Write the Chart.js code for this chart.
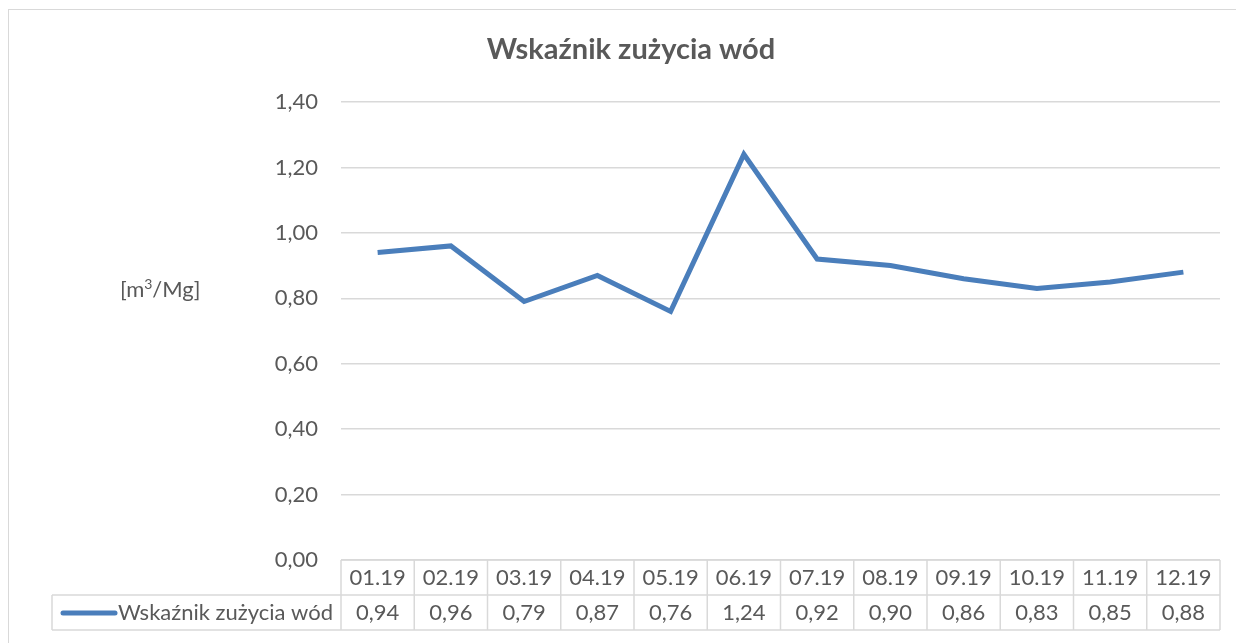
<!DOCTYPE html>
<html>
<head>
<meta charset="utf-8">
<script src="https://cdn.jsdelivr.net/npm/chart.js@4/dist/chart.umd.min.js"></script>
<style>
  html, body { margin: 0; padding: 0; background: #fff; }
  #wrap { width: 1236px; height: 643px; position: relative; }
</style>
</head>
<body>
<div id="wrap"><canvas id="myChart" width="1236" height="643"></canvas></div>
<script>
var months = ['01.19','02.19','03.19','04.19','05.19','06.19','07.19','08.19','09.19','10.19','11.19','12.19'];
var values = [0.94, 0.96, 0.79, 0.87, 0.76, 1.24, 0.92, 0.90, 0.86, 0.83, 0.85, 0.88];
var seriesName = 'Wskaźnik zużycia wód';
var chartTitle = 'Wskaźnik zużycia wód';

var FONT = 'Lato, "Open Sans", sans-serif';
var GRAY = '#595959';
var GRID = '#d9d9d9';
var BLUE = '#4a7ebb';

function fmt(v) {
  return v.toFixed(2).replace('.', ',');
}

// title, unit label, data table and frame
var extras = {
  id: 'extras',
  afterDraw: function(chart) {
    var c = chart.ctx;
    var x = chart.scales.x;
    var area = chart.chartArea;
    var half = (x.getPixelForValue(1) - x.getPixelForValue(0)) / 2;
    var top = area.bottom, mid = top + 35, bot = mid + 35;
    var legendLeft = 52;

    c.save();
    // outer frame
    c.strokeStyle = GRID;
    c.lineWidth = 1;
    c.strokeRect(8.5, 9.5, 1300, 700);

    // title
    c.fillStyle = GRAY;
    c.font = 'bold 29px ' + FONT;
    c.textAlign = 'center';
    c.textBaseline = 'middle';
    c.fillText(chartTitle, 631, 50);

    // unit label [m3/Mg]
    c.font = '22px ' + FONT;
    c.textAlign = 'left';
    c.textBaseline = 'alphabetic';
    var ux = 120, uy = 297;
    c.fillText('[m', ux, uy);
    ux += c.measureText('[m').width;
    c.font = '14px ' + FONT;
    c.fillText('3', ux, uy - 8);
    ux += c.measureText('3').width;
    c.font = '22px ' + FONT;
    c.fillText('/Mg]', ux, uy);

    // table lines
    c.strokeStyle = GRID;
    c.lineWidth = 1.5;
    c.beginPath();
    c.moveTo(area.left, top); c.lineTo(area.right, top);
    c.moveTo(legendLeft, mid); c.lineTo(area.right, mid);
    c.moveTo(legendLeft, bot); c.lineTo(area.right, bot);
    c.moveTo(legendLeft, mid); c.lineTo(legendLeft, bot);
    for (var i = 0; i < months.length; i++) {
      var px = x.getPixelForValue(i) - half;
      c.moveTo(px, top); c.lineTo(px, bot);
    }
    c.moveTo(area.right, top); c.lineTo(area.right, bot);
    c.stroke();

    // table text
    c.fillStyle = GRAY;
    c.font = '22px ' + FONT;
    c.textAlign = 'center';
    c.textBaseline = 'middle';
    for (var j = 0; j < months.length; j++) {
      var cx = x.getPixelForValue(j);
      c.fillText(months[j], cx, top + 18);
      c.fillText(fmt(values[j]), cx, mid + 18);
    }

    // legend key
    c.strokeStyle = BLUE;
    c.lineWidth = 5;
    c.lineCap = 'round';
    c.beginPath();
    c.moveTo(63, mid + 18); c.lineTo(115, mid + 18);
    c.stroke();
    c.textAlign = 'left';
    c.fillText(seriesName, 118, mid + 18);
    c.restore();
  }
};

var ctx = document.getElementById('myChart').getContext('2d');
var myChart = new Chart(ctx, {
  type: 'line',
  data: {
    labels: months,
    datasets: [{
      label: seriesName,
      data: values,
      borderColor: BLUE,
      borderWidth: 5,
      pointRadius: 0,
      tension: 0,
      fill: false
    }]
  },
  options: {
    responsive: false,
    animation: false,
    layout: { padding: { left: 0, top: 102, right: 16, bottom: 83 } },
    plugins: {
      legend: { display: false },
      title: { display: false },
      tooltip: { enabled: false }
    },
    scales: {
      x: {
        display: false,
        offset: true
      },
      y: {
        min: 0,
        max: 1.4,
        afterFit: function(scale) { scale.width = 341; },
        border: { display: false },
        grid: { color: GRID, lineWidth: 1.5, drawTicks: false },
        ticks: {
          stepSize: 0.2,
          padding: 23,
          color: GRAY,
          font: { family: FONT, size: 22 },
          callback: function(v) { return fmt(v); }
        }
      }
    }
  },
  plugins: [extras]
});
</script>
</body>
</html>
